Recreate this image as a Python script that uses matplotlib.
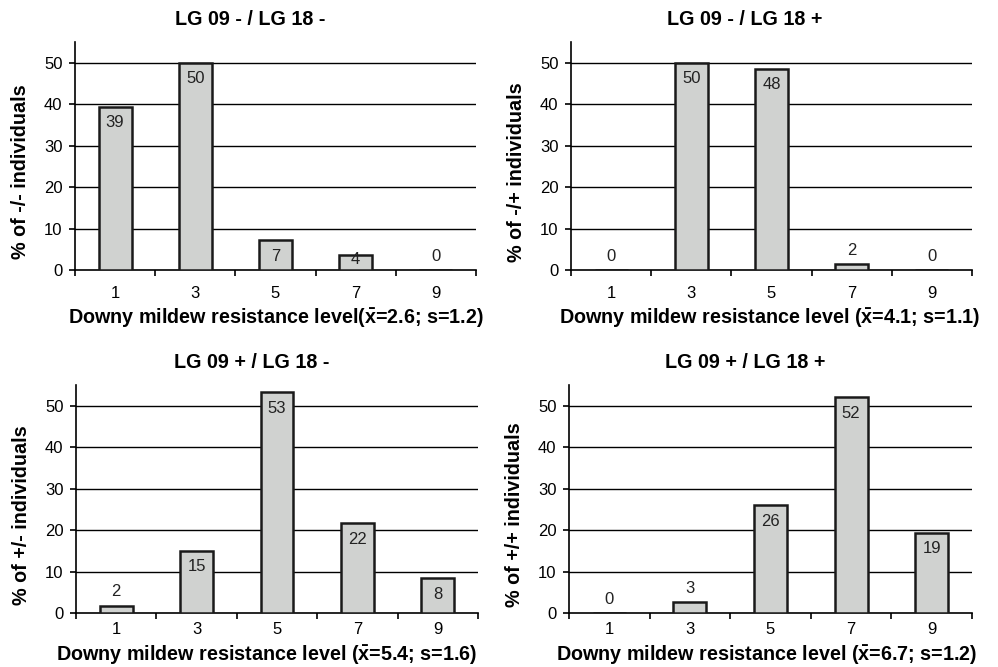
import matplotlib
matplotlib.use("Agg")
import matplotlib.pyplot as plt
import numpy as np

plt.rcParams['font.family'] = ['Liberation Sans', 'DejaVu Sans']
plt.rcParams['mathtext.fontset'] = 'custom'
plt.rcParams['mathtext.rm'] = 'Liberation Sans'
plt.rcParams['mathtext.bf'] = 'Liberation Sans:bold'
plt.rcParams['mathtext.it'] = 'Liberation Sans:italic'

levels = ["1", "3", "5", "7", "9"]

titles = ["LG 09 - / LG 18 -", "LG 09 - / LG 18 +",
          "LG 09 + / LG 18 -", "LG 09 + / LG 18 +"]
ylabels = ["% of -/- individuals", "% of -/+ individuals",
           "% of +/- individuals", "% of +/+ individuals"]
xlabels = [r"Downy mildew resistance level($\mathbf{\bar{x}}$=2.6; s=1.2)",
           r"Downy mildew resistance level ($\mathbf{\bar{x}}$=4.1; s=1.1)",
           r"Downy mildew resistance level ($\mathbf{\bar{x}}$=5.4; s=1.6)",
           r"Downy mildew resistance level ($\mathbf{\bar{x}}$=6.7; s=1.2)"]

heights_mm = [39.4, 50.0, 7.2, 3.6, 0.0]
heights_mp = [0.0, 50.0, 48.6, 1.5, 0.0]
heights_pm = [1.8, 15.0, 53.3, 21.7, 8.4]
heights_pp = [0.0, 2.7, 26.0, 52.1, 19.4]

labels_mm = [39, 50, 7, 4, 0]
labels_mp = [0, 50, 48, 2, 0]
labels_pm = [2, 15, 53, 22, 8]
labels_pp = [0, 3, 26, 52, 19]

heights = [heights_mm, heights_mp, heights_pm, heights_pp]
labels = [labels_mm, labels_mp, labels_pm, labels_pp]

fig = plt.figure(figsize=(9.98, 6.67), dpi=100)

W, H = 998, 667
rects = [(75, 476, 42, 270), (571, 972, 42, 270),
         (76, 478, 385, 613), (569, 972, 385, 613)]
xlab_y = [-0.21, -0.21, -0.185, -0.185]
tick_pad = [11.5, 11.5, 6.5, 6.5]
xlab_x = [0.5, 0.495, 0.475, 0.49]
title_x = [0.436, 0.434, 0.438, 0.437]

FS = 14.2
TFS = 12

for i in range(4):
    l, r, t, b = rects[i]
    ax = fig.add_axes([l / W, 1 - b / H, (r - l) / W, (b - t) / H])
    x = np.arange(len(levels))
    ax.set_xlim(-0.5, len(levels) - 0.5)
    ax.set_ylim(0, 55)
    ax.set_yticks([0, 10, 20, 30, 40, 50])
    for gy in [10, 20, 30, 40, 50]:
        ax.axhline(gy, color='black', lw=1.0, zorder=1)
    ax.bar(x, heights[i], width=0.41, color='#d0d2d0', edgecolor='#1a1a1a',
           linewidth=1.8, zorder=3)
    for xi, h, lab in zip(x, heights[i], labels[i]):
        if h < 3:
            yy = h + 3.3
        else:
            yy = max(h - 3.9, 2.6)
        ax.text(xi, yy, str(lab), ha='center', va='center', fontsize=TFS,
                color='#222222', zorder=4)
    for s in ['top', 'right']:
        ax.spines[s].set_visible(False)
    ax.spines['left'].set_linewidth(1.2)
    ax.spines['bottom'].set_linewidth(1.2)
    ax.set_xticks(x)
    ax.set_xticklabels(levels, fontsize=TFS)
    ax.set_xticks(np.arange(-0.5, len(levels), 1.0), minor=True)
    ax.tick_params(axis='x', which='major', length=0, pad=tick_pad[i])
    ax.tick_params(axis='x', which='minor', length=4, width=1.2,
                   direction='out')
    ax.tick_params(axis='y', length=4, width=1.2, direction='out',
                   labelsize=TFS, pad=5)
    ax.set_ylabel(ylabels[i], fontsize=FS, fontweight='bold')
    ax.yaxis.set_label_coords(-0.112, 0.43)
    ax.text(title_x[i], 1.097, titles[i], transform=ax.transAxes, ha='center',
            va='center', fontsize=FS, fontweight='bold')
    ax.text(xlab_x[i], xlab_y[i], xlabels[i], transform=ax.transAxes,
            ha='center', va='center', fontsize=FS, fontweight='bold')

fig.savefig("out.png", dpi=100)
